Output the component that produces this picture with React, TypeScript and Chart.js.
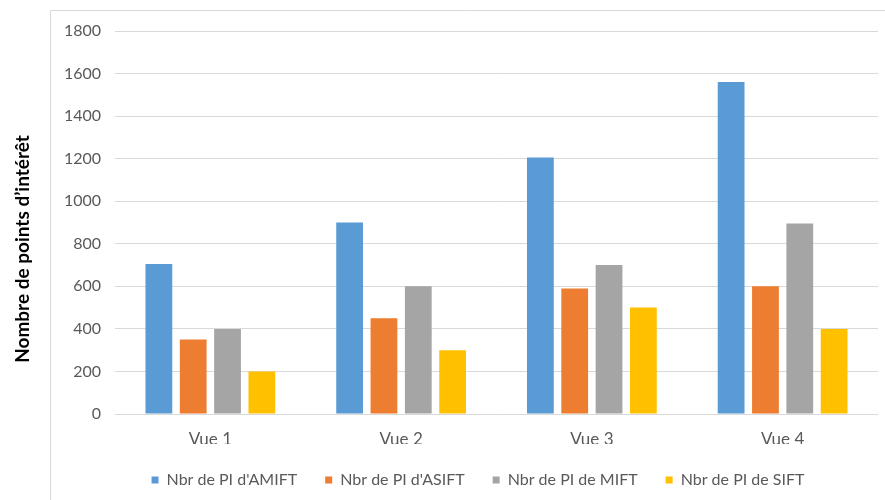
import React, { useEffect, useRef } from "react";
import { Chart, registerables } from "chart.js";

Chart.register(...registerables);

const categories = ["Vue 1", "Vue 2", "Vue 3", "Vue 4"];
const amift = [705, 900, 1205, 1560];
const asift = [350, 450, 590, 600];
const mift = [400, 600, 700, 895];
const sift = [200, 300, 500, 400];
const seriesNames = ["Nbr de PI d'AMIFT", "Nbr de PI d'ASIFT", "Nbr de PI de MIFT", "Nbr de PI de SIFT"];
const colors = ["#5B9BD5", "#ED7D31", "#A5A5A5", "#FFC000"];
const yTitle = "Nombre de points d’intérêt";

const FONT = "Lato, 'Open Sans', sans-serif";

const borderPlugin = {
  id: "outerBorder",
  beforeDraw(chart: any) {
    const ctx = chart.ctx;
    ctx.save();
    ctx.fillStyle = "#ffffff";
    ctx.fillRect(0, 0, chart.width, chart.height);
    ctx.strokeStyle = "#D9D9D9";
    ctx.lineWidth = 1;
    ctx.beginPath();
    ctx.moveTo(50.5, chart.height);
    ctx.lineTo(50.5, 10.5);
    ctx.lineTo(chart.width, 10.5);
    ctx.stroke();
    ctx.restore();
  },
  afterDraw(chart: any) {
    const ctx = chart.ctx;
    ctx.save();
    ctx.translate(23, 249);
    ctx.rotate(-Math.PI / 2);
    ctx.font = `bold 19px ${FONT}`;
    ctx.fillStyle = "#000000";
    ctx.textAlign = "center";
    ctx.textBaseline = "middle";
    ctx.fillText(yTitle, 0, 0);
    ctx.restore();
  },
};

const legendShift = {
  id: "legendShift",
  afterLayout(chart: any) {
    const lg = chart.legend;
    if (lg) {
      lg.left += 36;
      lg.right += 36;
    }
  },
};

export default function App() {
  const ref = useRef<HTMLCanvasElement>(null);
  useEffect(() => {
    if (!ref.current) return;
    const data = [amift, asift, mift, sift];
    const chart = new Chart(ref.current, {
      type: "bar",
      data: {
        labels: categories,
        datasets: data.map((d, i) => ({
          label: seriesNames[i],
          data: d,
          backgroundColor: colors[i],
          borderWidth: 0,
          categoryPercentage: 0.72,
          barPercentage: 0.78,
        })),
      },
      plugins: [borderPlugin, legendShift],
      options: {
        responsive: false,
        animation: false,
        devicePixelRatio: 1,
        layout: { padding: { left: 6, right: 7, top: 31, bottom: 2 } },
        plugins: {
          tooltip: { enabled: false },
          legend: {
            position: "bottom",
            labels: {
              font: { family: FONT, size: 16 },
              color: "#595959",
              boxWidth: 7,
              boxHeight: 7,
              padding: 28,
            },
          },
        },
        scales: {
          x: {
            grid: { display: false },
            border: { display: false },
            ticks: { font: { family: FONT, size: 17 }, color: "#595959", padding: 7 },
            afterFit(scale: any) {
              scale.height = 30;
            },
          },
          y: {
            min: 0,
            max: 1800,
            ticks: {
              stepSize: 200,
              font: { family: FONT, size: 16 },
              color: "#595959",
              padding: 14,
              callback: (v: any) => String(v),
            },
            grid: { color: "#D9D9D9", lineWidth: 1, drawTicks: false },
            border: { display: false },
            afterFit(scale: any) {
              scale.width = 109;
            },
          },
        },
      },
    } as any);
    return () => chart.destroy();
  }, []);
  return (
    <div style={{ position: "fixed", left: 0, top: 0, width: 885, height: 500, background: "#fff" }}>
      <canvas ref={ref} width={885} height={500} style={{ width: 885, height: 500 }} />
    </div>
  );
}
